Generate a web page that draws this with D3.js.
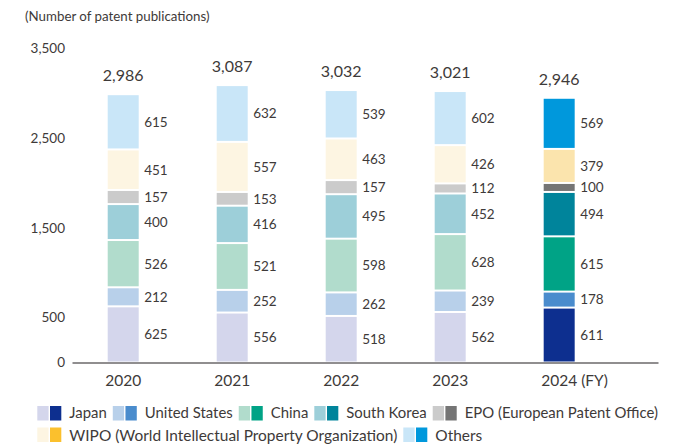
<!DOCTYPE html>
<html>
<head>
<meta charset="utf-8">
<script src="https://cdn.jsdelivr.net/npm/d3@7/dist/d3.min.js"></script>
<style>
  html, body { margin: 0; padding: 0; background: #fff; }
  svg { display: block; font-family: Lato, "Noto Sans", sans-serif; font-weight: 400; }
</style>
</head>
<body>
<svg id="chart" width="680" height="446"></svg>
<script>
// Patent publications by filing office, fiscal years 2020-2024
const years = ["2020", "2021", "2022", "2023", "2024"];
const yearLabels = ["2020", "2021", "2022", "2023", "2024 (FY)"];
const offices = [
  "Japan",
  "United States",
  "China",
  "South Korea",
  "EPO (European Patent Office)",
  "WIPO (World Intellectual Property Organization)",
  "Others"
];
const japan = [625, 556, 518, 562, 611];
const unitedStates = [212, 252, 262, 239, 178];
const china = [526, 521, 598, 628, 615];
const southKorea = [400, 416, 495, 452, 494];
const epo = [157, 153, 157, 112, 100];
const wipo = [451, 557, 463, 426, 379];
const others = [615, 632, 539, 602, 569];
const totals = [2986, 3087, 3032, 3021, 2946];
const yTicks = [0, 500, 1500, 2500, 3500];
const yMax = 3500;

// Past years use pale tints; the latest year uses full colour
const paleColors = ["#d4d6ec", "#b8d0ea", "#b1dccc", "#9dcfd9", "#cbcbcb", "#fdf5e2", "#c9e6f8"];
const vividColors = ["#0d2f8f", "#4a8ccd", "#00a386", "#00849b", "#757575", "#fbe4ad", "#0098dc"];
const legendVivid = ["#0d2f8f", "#4a8ccd", "#00a386", "#00849b", "#757575", "#fbc02d", "#0098dc"];

const seriesValues = [japan, unitedStates, china, southKorea, epo, wipo, others];
const rows = years.map((yr, i) => {
  const r = { year: yr };
  offices.forEach((o, k) => { r[o] = seriesValues[k][i]; });
  return r;
});

const svg = d3.select("#chart");
const textColor = "#3e3a39";
const fontStack = "Lato, 'Noto Sans', sans-serif";

const x = d3.scaleBand()
  .domain(years)
  .range([72, 658])
  .paddingInner(0.7156)
  .paddingOuter(0.546)
  .align(0.3);

const y = d3.scaleLinear().domain([0, yMax]).range([362.5, 48]);

const stacked = d3.stack().keys(offices)(rows);

// Stacked segments, separated by thin white gaps
const gap = 1;
stacked.forEach((layer, k) => {
  svg.append("g")
    .selectAll("rect")
    .data(layer)
    .join("rect")
    .attr("x", d => x(d.data.year))
    .attr("width", x.bandwidth())
    .attr("y", d => y(d[1]) + gap)
    .attr("height", d => Math.max(0, y(d[0]) - y(d[1]) - 2 * gap))
    .attr("fill", (d, i) => i === years.length - 1 ? vividColors[k] : paleColors[k]);

  // Segment value labels to the right of each bar
  svg.append("g")
    .selectAll("text")
    .data(layer)
    .join("text")
    .attr("x", d => x(d.data.year) + x.bandwidth() + 5.5)
    .attr("y", d => (y(d[0]) + y(d[1])) / 2)
    .attr("dy", "0.36em")
    .attr("font-size", 13.5)
    .attr("fill", textColor)
    .text(d => d3.format(",")(d[1] - d[0]));
});

// Totals above the bars
svg.append("g")
  .selectAll("text")
  .data(years)
  .join("text")
  .attr("x", d => x(d) + x.bandwidth() / 2)
  .attr("y", (d, i) => y(totals[i]) - 13)
  .attr("text-anchor", "middle")
  .attr("font-size", 16)
  .attr("fill", textColor)
  .text((d, i) => d3.format(",")(totals[i]));

// Y axis: labels only
const yAxis = svg.append("g")
  .attr("transform", "translate(65,0)")
  .call(d3.axisLeft(y).tickValues(yTicks).tickFormat(d3.format(",")).tickSize(0).tickPadding(0));
yAxis.select(".domain").remove();
yAxis.selectAll("text")
  .attr("font-family", fontStack)
  .attr("font-size", 13.5)
  .attr("fill", textColor);

// X axis: baseline and year labels
const xAxis = svg.append("g")
  .attr("transform", `translate(0,${y(0)})`)
  .call(d3.axisBottom(x).tickSize(0).tickSizeOuter(0).tickPadding(12)
    .tickFormat((d, i) => yearLabels[i]));
xAxis.select(".domain").attr("stroke", "#231f20").attr("stroke-width", 1.2);
xAxis.selectAll("text")
  .attr("font-family", fontStack)
  .attr("font-size", 15.5)
  .attr("fill", textColor);
// Keep the year itself centred under the last bar, with "(FY)" trailing
xAxis.selectAll(".tick text").each(function (d, i) {
  const label = yearLabels[i];
  if (label !== years[i]) {
    const full = this.getComputedTextLength();
    const part = this.getSubStringLength(0, years[i].length);
    d3.select(this).attr("x", full / 2 - part / 2);
  }
});

// Axis caption
svg.append("text")
  .attr("x", 25)
  .attr("y", 21)
  .attr("font-size", 13.3)
  .attr("fill", textColor)
  .text("(Number of patent publications)");

// Legend: pale + vivid swatch pair per office, two rows
const legendRows = [[0, 1, 2, 3, 4], [5, 6]];
const rowY = [406, 427.5];
const rowBase = [418, 441];
const legendLeft = 37.3;
const legendRight = 658;
legendRows.forEach((items, r) => {
  let cx = legendLeft;
  const groups = [];
  items.forEach(k => {
    const g = svg.append("g");
    g.append("rect").attr("x", 0).attr("y", rowY[r]).attr("width", 11.3).attr("height", 14.5).attr("fill", paleColors[k]);
    g.append("rect").attr("x", 12.7).attr("y", rowY[r]).attr("width", 11.3).attr("height", 14.5).attr("fill", legendVivid[k]);
    const t = g.append("text")
      .attr("x", 32)
      .attr("y", rowBase[r])
      .attr("font-size", 16)
      .attr("fill", textColor)
      .text(offices[k]);
    groups.push({ g, t, w: t.node().getComputedTextLength() });
  });
  // Fit the row within the plot width by condensing text if needed
  const fixed = items.length * 32 + (items.length - 1) * 6;
  const textTotal = d3.sum(groups, d => d.w);
  const avail = legendRight - legendLeft - fixed;
  const squeeze = r === 0 ? Math.min(1, avail / textTotal) : Math.min(1, 328 / groups[0].w);
  groups.forEach(({ g, t, w }) => {
    const tw = w * squeeze;
    if (squeeze < 1) t.attr("textLength", tw).attr("lengthAdjust", "spacingAndGlyphs");
    g.attr("transform", `translate(${cx},0)`);
    cx += 32 + tw + 6;
  });
});
</script>
</body>
</html>
